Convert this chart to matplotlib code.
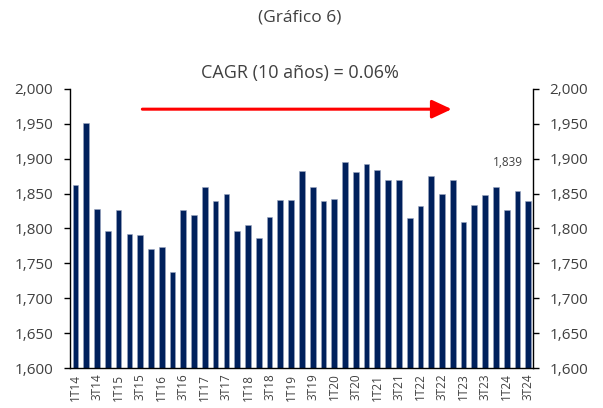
import matplotlib
matplotlib.use("Agg")
import matplotlib.pyplot as plt
import numpy as np

plt.rcParams['font.family'] = ['Open Sans', 'DejaVu Sans']

quarters = [f"{q}T{y:02d}" for y in range(14, 25) for q in range(1, 5)][:43]
values = [1862, 1951, 1828, 1797, 1827, 1792, 1790, 1771, 1774, 1738,
          1827, 1820, 1859, 1839, 1850, 1796, 1805, 1787, 1817, 1841,
          1841, 1882, 1860, 1840, 1842, 1895, 1881, 1892, 1884, 1870,
          1870, 1815, 1832, 1875, 1850, 1869, 1810, 1833, 1848, 1860,
          1827, 1854, 1839]
yticks = [1600, 1650, 1700, 1750, 1800, 1850, 1900, 1950, 2000]
title = "(Gráfico 6)"
subtitle = "CAGR (10 años) = 0.06%"

bar_color = "#00205C"
text_color = "#404040"

fig = plt.figure(figsize=(6.03, 4.08), dpi=100)
ax = fig.add_axes([0.1161, 0.098, 0.7678, 0.684])

x = np.arange(len(values))
ax.bar(x, values, width=0.53, color=bar_color, edgecolor="#9aa6c0", linewidth=0.4, zorder=2)
ax.set_ylim(1600, 2000)
ax.set_xlim(-0.51, len(values) - 1 + 0.44)
ax.set_yticks(yticks)
ax.set_yticklabels([f"{v:,}" for v in yticks])
ax.set_xticks(x[::2])
ax.set_xticklabels(quarters[::2], rotation=90)

ax.spines["top"].set_visible(False)
for s in ["left", "right", "bottom"]:
    ax.spines[s].set_color("black")
    ax.spines[s].set_linewidth(1.0)

ax.tick_params(axis="y", which="both", direction="out", length=4, width=1,
               left=True, right=True, labelleft=True, labelright=True,
               labelsize=11, labelcolor=text_color, pad=8)
ax.tick_params(axis="x", length=0, labelsize=8.5, labelcolor=text_color, pad=4)

ax.annotate("", xy=(34.9, 1971), xytext=(6.2, 1971),
            arrowprops=dict(arrowstyle="-|>,head_length=0.6,head_width=0.28",
                            color="#FF0000", lw=2.2, mutation_scale=20,
                            shrinkA=0, shrinkB=0))

ax.text(40.1, 1894.5, f"{values[-1]:,}", ha="center", va="center",
        fontsize=8.5, color=text_color)

fig.text(0.4975, 0.956, title, ha="center", va="center", fontsize=12.5, color=text_color)
fig.text(0.4975, 0.821, subtitle, ha="center", va="center", fontsize=13, color=text_color)

fig.savefig("out.png", dpi=100)
